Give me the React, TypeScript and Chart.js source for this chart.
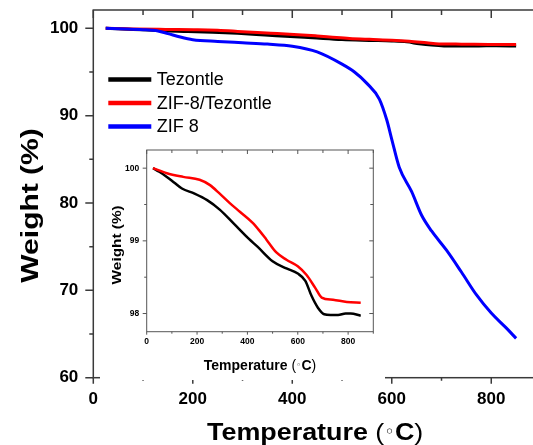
import React, { useEffect, useRef } from "react";
import { Chart, registerables } from "chart.js";

Chart.register(...registerables);

// ---------------- data ----------------
const seriesLabels = ["Tezontle", "ZIF-8/Tezontle", "ZIF 8"];
const seriesColors = ["#000000", "#ff0000", "#0000ff"];

const tezontleTemp = [25, 50, 80, 110, 140, 190, 240, 290, 345, 405, 440, 500, 555, 600, 630, 655, 680, 705, 730, 760, 790, 810, 850];
const tezontleWeight = [100, 99.95, 99.88, 99.8, 99.72, 99.65, 99.56, 99.43, 99.24, 99.03, 98.92, 98.72, 98.62, 98.55, 98.45, 98.24, 98.08, 97.99, 97.98, 97.98, 98.0, 98.0, 97.97];

const zifTezTemp = [25, 80, 145, 210, 250, 290, 330, 370, 420, 450, 475, 515, 555, 600, 635, 670, 695, 740, 795, 850];
const zifTezWeight = [100, 99.93, 99.88, 99.84, 99.77, 99.65, 99.52, 99.4, 99.25, 99.13, 99.02, 98.84, 98.74, 98.65, 98.53, 98.35, 98.22, 98.19, 98.16, 98.15];

const zif8Temp = [25, 50, 100, 130, 150, 175, 200, 250, 300, 350, 400, 450, 500, 525, 550, 575, 590, 600, 615, 640, 660, 680, 710, 740, 770, 800, 830, 850];
const zif8Weight = [100, 99.95, 99.85, 99.7, 99.4, 99.0, 98.7, 98.5, 98.35, 98.2, 97.95, 97.3, 95.9, 95.0, 93.7, 91.9, 89.5, 87.3, 84.1, 81.3, 78.6, 76.8, 74.6, 72.1, 69.5, 67.4, 65.7, 64.5];

const mainXTicks = [0, 200, 400, 600, 800];
const mainXMinor = [100, 300, 500, 700, 900];
const mainYTicks = [60, 70, 80, 90, 100];
const mainYMinor = [65, 75, 85, 95];
const mainXRange = [0, 900];
const mainYRange = [60, 102.1];

const insetXTicks = [0, 200, 400, 600, 800];
const insetXMinor = [100, 300, 500, 700, 900];
const insetYTicks = [98, 99, 100];
const insetYMinor = [98.5, 99.5];
const insetXRange = [0, 900];
const insetYRange = [97.75, 100.25];

const xTitleMain = "Temperature ";
const unitText = ["(", "◦", "C", ")"];
const yTitle = "Weight (%)";

// ---------------- helpers ----------------
const FONT = '"Liberation Sans", Arial, Helvetica, sans-serif';

const toPoints = (xs: number[], ys: number[]) => xs.map((x, i) => ({ x, y: ys[i] }));

type TickSpec = { scale: string; side: "left" | "right" | "top" | "bottom"; values: number[]; len: number; inward: boolean };

function framePlugin(color: string, width: number, specs: TickSpec[]) {
  return {
    id: "frameTicks",
    afterDraw(chart: any) {
      const { ctx, chartArea } = chart;
      const { left, right, top, bottom } = chartArea;
      ctx.save();
      ctx.strokeStyle = color;
      ctx.lineWidth = width;
      ctx.strokeRect(left, top, right - left, bottom - top);
      ctx.beginPath();
      for (const s of specs) {
        const sc = chart.scales[s.scale];
        for (const v of s.values) {
          const p = sc.getPixelForValue(v);
          if (s.side === "bottom") {
            const d = s.inward ? -1 : 1;
            ctx.moveTo(p, bottom); ctx.lineTo(p, bottom + d * s.len);
          } else if (s.side === "top") {
            const d = s.inward ? 1 : -1;
            ctx.moveTo(p, top); ctx.lineTo(p, top + d * s.len);
          } else if (s.side === "left") {
            const d = s.inward ? 1 : -1;
            ctx.moveTo(left, p); ctx.lineTo(left + d * s.len, p);
          } else {
            const d = s.inward ? -1 : 1;
            ctx.moveTo(right, p); ctx.lineTo(right + d * s.len, p);
          }
        }
      }
      ctx.stroke();
      ctx.restore();
    },
  };
}

type Seg = { text: string; font: string; rise?: number };
type TitleSpec = { axis: "x" | "y"; dx: number; dy: number; stretch: number; segs: Seg[] };

function titlesPlugin(items: TitleSpec[]) {
  return {
    id: "axisTitles",
    afterDraw(chart: any) {
      const { ctx, chartArea: ca } = chart;
      for (const t of items) {
        ctx.save();
        const cx = t.axis === "x" ? (ca.left + ca.right) / 2 + t.dx : ca.left + t.dx;
        const cy = t.axis === "x" ? ca.bottom + t.dy : (ca.top + ca.bottom) / 2 + t.dy;
        ctx.translate(cx, cy);
        if (t.axis === "y") ctx.rotate(-Math.PI / 2);
        ctx.scale(t.stretch, 1);
        ctx.textAlign = "left";
        ctx.textBaseline = "alphabetic";
        ctx.fillStyle = "#000";
        const widths = t.segs.map((s) => {
          ctx.font = s.font;
          return ctx.measureText(s.text).width;
        });
        const total = widths.reduce((a, b) => a + b, 0);
        let x = -total / 2;
        t.segs.forEach((s, i) => {
          ctx.font = s.font;
          ctx.fillText(s.text, x, s.rise || 0);
          x += widths[i];
        });
        ctx.restore();
      }
    },
  };
}

function legendPlugin() {
  return {
    id: "insideLegend",
    afterDraw(chart: any) {
      const { ctx, chartArea: ca } = chart;
      ctx.save();
      ctx.font = `18px ${FONT}`;
      ctx.textBaseline = "middle";
      ctx.textAlign = "left";
      chart.data.datasets.forEach((ds: any, i: number) => {
        const y = ca.top + 69.5 + i * 23.5;
        ctx.strokeStyle = ds.borderColor;
        ctx.lineWidth = 4.5;
        ctx.beginPath();
        ctx.moveTo(ca.left + 15, y);
        ctx.lineTo(ca.left + 58, y);
        ctx.stroke();
        ctx.fillStyle = "#000";
        ctx.fillText(ds.label, ca.left + 63.5, y + 1);
      });
      ctx.restore();
    },
  };
}

function fixedTicks(values: number[]) {
  return (scale: any) => {
    scale.ticks = values.map((v) => ({ value: v }));
  };
}

function fixedWidth(w: number) {
  return (scale: any) => {
    scale.width = w;
    scale.paddingTop = 0;
    scale.paddingBottom = 0;
  };
}
function fixedHeight(h: number) {
  return (scale: any) => {
    scale.height = h;
    scale.paddingLeft = 0;
    scale.paddingRight = 0;
  };
}

export default function App() {
  const mainRef = useRef<HTMLCanvasElement>(null);
  const insetRef = useRef<HTMLCanvasElement>(null);

  useEffect(() => {
    const mainCanvas = mainRef.current!;
    const insetCanvas = insetRef.current!;

    const mainDatasets = [
      { label: seriesLabels[0], data: toPoints(tezontleTemp, tezontleWeight), borderColor: seriesColors[0], order: 2 },
      { label: seriesLabels[1], data: toPoints(zifTezTemp, zifTezWeight), borderColor: seriesColors[1], order: 1 },
      { label: seriesLabels[2], data: toPoints(zif8Temp, zif8Weight), borderColor: seriesColors[2], order: 0 },
    ].map((d) => ({
      ...d,
      borderWidth: 3,
      pointRadius: 0,
      fill: false,
      cubicInterpolationMode: "monotone" as const,
    }));

    const mainChart = new Chart(mainCanvas, {
      type: "line",
      data: { datasets: mainDatasets as any },
      options: {
        animation: false,
        responsive: false,
        events: [],
        layout: { padding: { top: 10, right: 19, left: 0, bottom: 0 } },
        plugins: { legend: { display: false }, tooltip: { enabled: false }, title: { display: false } },
        scales: {
          x: {
            type: "linear",
            min: mainXRange[0],
            max: mainXRange[1],
            afterBuildTicks: fixedTicks(mainXTicks),
            afterFit: fixedHeight(67.3),
            grid: { display: false, drawTicks: false },
            border: { display: false },
            ticks: { padding: 11, color: "#000", font: { family: FONT, size: 17, weight: "bold" } },
          },
          y: {
            type: "linear",
            min: mainYRange[0],
            max: mainYRange[1],
            afterBuildTicks: fixedTicks(mainYTicks),
            afterFit: fixedWidth(93.3),
            grid: { display: false, drawTicks: false },
            border: { display: false },
            ticks: { padding: 15, color: "#000", font: { family: FONT, size: 17, weight: "bold" } },
          },
        },
      },
      plugins: [
        framePlugin("#3a3a3a", 1.5, [
          { scale: "y", side: "left", values: mainYTicks, len: 8, inward: false },
          { scale: "y", side: "left", values: mainYMinor, len: 4, inward: false },
          { scale: "x", side: "bottom", values: mainXTicks, len: 6, inward: false },
          { scale: "x", side: "bottom", values: mainXMinor, len: 3, inward: false },
          { scale: "x", side: "top", values: mainXTicks, len: 8, inward: true },
          { scale: "x", side: "top", values: mainXMinor, len: 5, inward: true },
        ]),
        titlesPlugin([
          {
            axis: "x",
            dx: -2,
            dy: 62,
            stretch: 1.12,
            segs: [
              { text: xTitleMain, font: `bold 24px ${FONT}` },
              { text: unitText[0], font: `24px ${FONT}` },
              { text: unitText[1], font: `16px "DejaVu Sans", ${FONT}`, rise: -3 },
              { text: unitText[2], font: `bold 24px ${FONT}` },
              { text: unitText[3], font: `24px ${FONT}` },
            ],
          },
          {
            axis: "y",
            dx: -55.8,
            dy: 11.6,
            stretch: 1.25,
            segs: [{ text: yTitle, font: `bold 24px ${FONT}` }],
          },
        ]),
        legendPlugin(),
      ],
    });

    const insetDatasets = [
      { label: seriesLabels[0], data: toPoints(tezontleTemp, tezontleWeight), borderColor: seriesColors[0], order: 1 },
      { label: seriesLabels[1], data: toPoints(zifTezTemp, zifTezWeight), borderColor: seriesColors[1], order: 0 },
    ].map((d) => ({
      ...d,
      borderWidth: 2.5,
      pointRadius: 0,
      fill: false,
      cubicInterpolationMode: "monotone" as const,
    }));

    const insetChart = new Chart(insetCanvas, {
      type: "line",
      data: { datasets: insetDatasets as any },
      options: {
        animation: false,
        responsive: false,
        events: [],
        layout: { padding: { top: 10, right: 11.7, left: 0, bottom: 0 } },
        plugins: { legend: { display: false }, tooltip: { enabled: false }, title: { display: false } },
        scales: {
          x: {
            type: "linear",
            min: insetXRange[0],
            max: insetXRange[1],
            afterBuildTicks: fixedTicks(insetXTicks),
            afterFit: fixedHeight(48.3),
            grid: { display: false, drawTicks: false },
            border: { display: false },
            ticks: { padding: 5, color: "#000", font: { family: FONT, size: 8.5, weight: "bold" } },
          },
          y: {
            type: "linear",
            min: insetYRange[0],
            max: insetYRange[1],
            afterBuildTicks: fixedTicks(insetYTicks),
            afterFit: fixedWidth(46.7),
            grid: { display: false, drawTicks: false },
            border: { display: false },
            ticks: { padding: 7.5, color: "#000", font: { family: FONT, size: 8.5, weight: "bold" } },
          },
        },
      },
      plugins: [
        framePlugin("#555555", 1, [
          { scale: "y", side: "left", values: insetYTicks, len: 4, inward: false },
          { scale: "y", side: "left", values: insetYMinor, len: 2.5, inward: false },
          { scale: "y", side: "right", values: insetYTicks, len: 4, inward: true },
          { scale: "y", side: "right", values: insetYMinor, len: 3, inward: true },
          { scale: "x", side: "bottom", values: insetXTicks, len: 3, inward: false },
          { scale: "x", side: "bottom", values: insetXMinor, len: 2, inward: false },
          { scale: "x", side: "top", values: insetXTicks, len: 4, inward: true },
          { scale: "x", side: "top", values: insetXMinor, len: 3, inward: true },
        ]),
        titlesPlugin([
          {
            axis: "x",
            dx: 0,
            dy: 38.5,
            stretch: 1,
            segs: [
              { text: xTitleMain, font: `bold 14px ${FONT}` },
              { text: unitText[0], font: `14px ${FONT}` },
              { text: unitText[1], font: `9px "DejaVu Sans", ${FONT}`, rise: -2 },
              { text: unitText[2], font: `bold 14px ${FONT}` },
              { text: unitText[3], font: `14px ${FONT}` },
            ],
          },
          {
            axis: "y",
            dx: -26.2,
            dy: 4,
            stretch: 1.28,
            segs: [{ text: yTitle, font: `bold 12px ${FONT}` }],
          },
        ]),
      ],
    });

    return () => {
      mainChart.destroy();
      insetChart.destroy();
    };
  }, []);

  return (
    <div
      style={{
        position: "fixed",
        left: 0,
        top: 0,
        width: 533,
        height: 445,
        overflow: "hidden",
        background: "#ffffff",
      }}
    >
      <canvas
        ref={mainRef}
        width={560}
        height={445}
        style={{ position: "absolute", left: 0, top: 0, width: 560, height: 445 }}
      />
      <canvas
        ref={insetRef}
        width={285}
        height={240}
        style={{ position: "absolute", left: 100, top: 140, width: 285, height: 240, background: "#ffffff" }}
      />
    </div>
  );
}
